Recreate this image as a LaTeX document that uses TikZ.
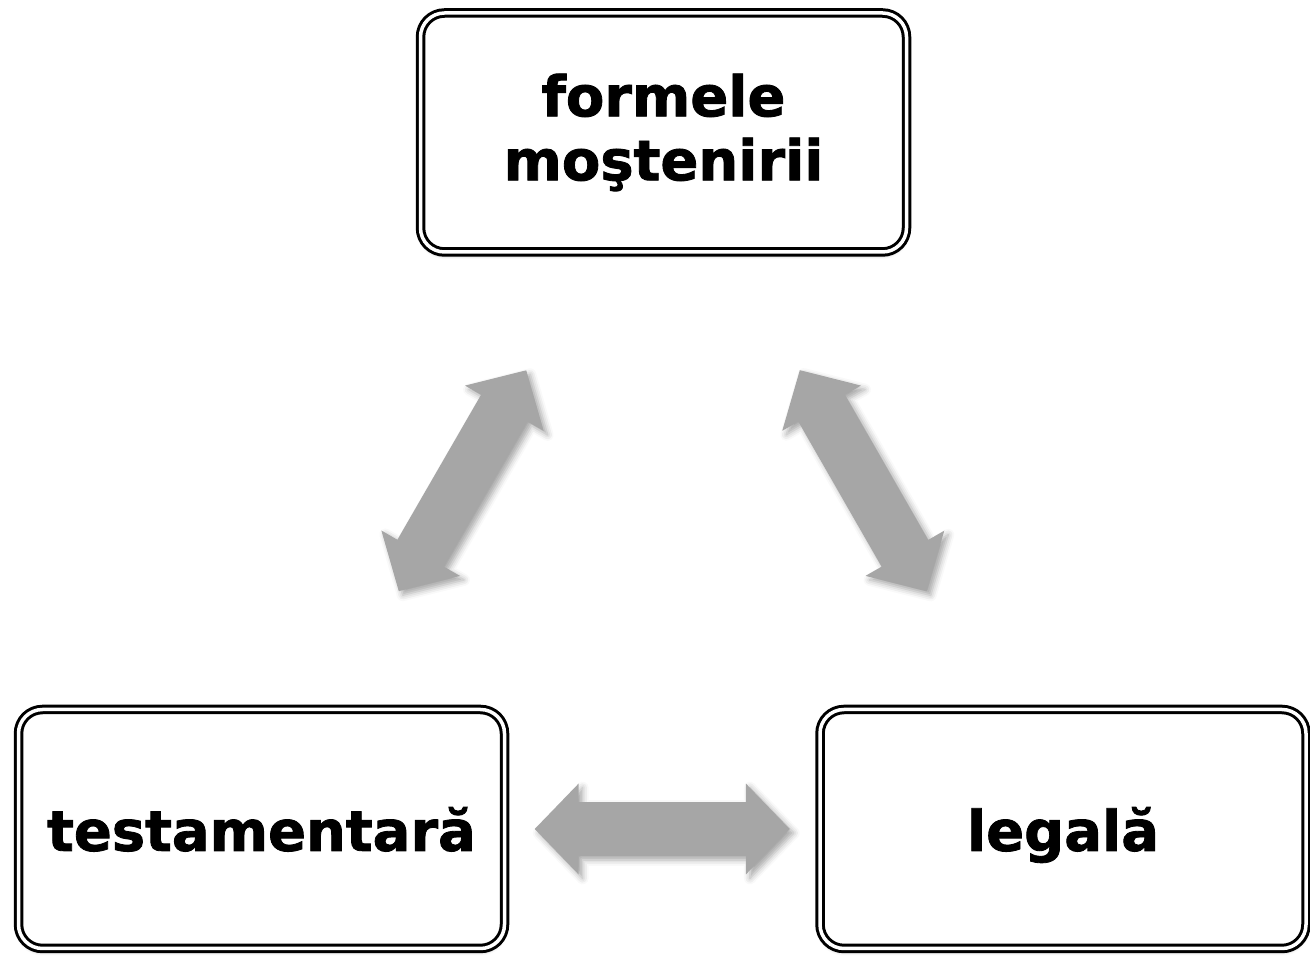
\documentclass[tikz,border=0pt]{standalone}
\usepackage{fontspec}
\setmainfont{DejaVu Sans}[BoldFeatures={FakeBold=1.5}]
\usetikzlibrary{shapes.arrows,shadows,shadows.blur}
\definecolor{arrowgray}{RGB}{166,166,166}
\tikzset{
    block/.style = {draw, rectangle, rounded corners=12pt,
        line width=1.5pt, double, double distance=1.75pt, fill=white,
        minimum width=243pt, minimum height=119.5pt, align=center,
        font=\fontsize{28}{32}\selectfont\bfseries,
        blur shadow={shadow xshift=0pt, shadow yshift=-1.5pt, shadow blur radius=2pt, shadow opacity=35}},
    dblarrow/.style = {double arrow, fill=arrowgray, inner xsep=0pt, inner ysep=13.25pt,
        minimum width=45pt, minimum height=127.5pt,
        double arrow head extend=9.25pt, double arrow tip angle=92,
        blur shadow={shadow xshift=2pt, shadow yshift=-2pt, shadow blur radius=3pt, shadow opacity=35}}
}

\begin{document}
\begin{tikzpicture}[x=0.5pt, y=0.5pt]
    \useasboundingbox (0,0) rectangle (1310,957);
    \node [block] (top) at (663.5,824.5) {formele\\moştenirii};
    \node [block, text depth=0pt] (testam) at (261.5,128) {testamentară};
    \node [block, text depth=0pt] (legala) at (1063,128) {legală};
    % double arrows between the boxes
    \path (testam.center) -- node [dblarrow, sloped] (arrL) {} (top.center);
    \path (top.center) -- node [dblarrow, sloped] (arrR) {} (legala.center);
    \path (testam.center) -- node [dblarrow] (arrB) {} (legala.center);
\end{tikzpicture}
\end{document}
